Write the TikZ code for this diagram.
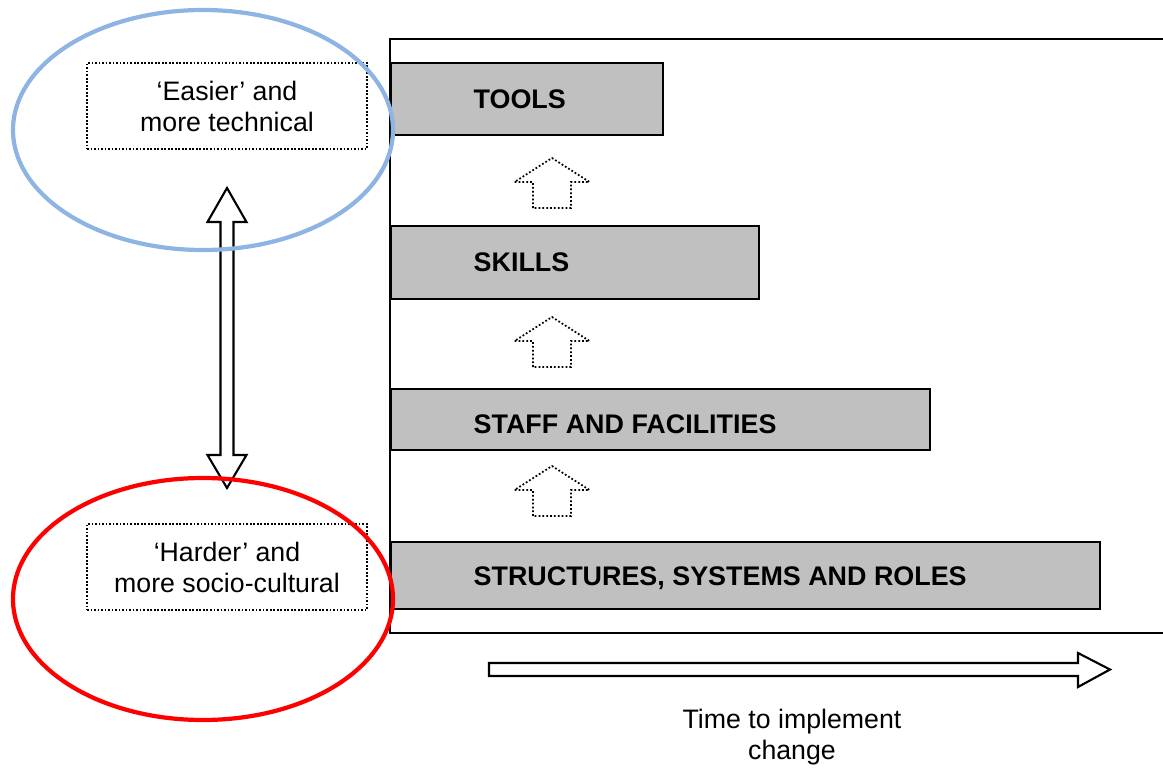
\documentclass[tikz,border=0pt]{standalone}
\usepackage{fontspec}
\setmainfont{Liberation Sans}
\usetikzlibrary{positioning}

\definecolor{bargray}{RGB}{192,192,192}
\definecolor{easyblue}{RGB}{141,180,226}
\definecolor{hardred}{RGB}{255,0,0}

\tikzset{
  bar/.style={draw, line width=0.6pt, fill=bargray, anchor=north west, inner sep=0pt},
  barlabel/.style={font=\bfseries\fontsize{7.65}{9}\selectfont, inner sep=0pt},
  notebox/.style={draw, dash pattern=on 0.5pt off 0.5pt, line width=0.7pt, minimum width=2.8cm,
    minimum height=0.86cm, align=center, font=\fontsize{7.6}{8.8}\selectfont},
  hint/.style={dash pattern=on 0.5pt off 0.6pt, line width=0.5pt}
}

\begin{document}
\begin{tikzpicture}

\useasboundingbox (0,0) rectangle (11.63,7.67);

%% Outer frame %%
\draw[line width=0.6pt] (11.63,7.28) -- (3.90,7.28) -- (3.90,1.34) -- (11.63,1.34);

%% Bars %%
\node[bar, minimum width=2.72cm, minimum height=0.72cm] (tools) at (3.90,7.05) {};
\node[bar, minimum width=3.68cm, minimum height=0.73cm] (skills) at (3.90,5.42) {};
\node[bar, minimum width=5.39cm, minimum height=0.61cm] (staff) at (3.90,3.79) {};
\node[bar, minimum width=7.09cm, minimum height=0.67cm] (structures) at (3.90,2.26) {};

\node[barlabel, right=0.83cm of tools.west] (toolstext) {TOOLS};
\node[barlabel, right=0.83cm of skills.west] (skillstext) {SKILLS};
\node[barlabel, right=0.83cm of staff.west, yshift=-0.05cm] (stafftext) {STAFF AND FACILITIES};
\node[barlabel, right=0.83cm of structures.west, yshift=-0.03cm] (structurestext) {STRUCTURES, SYSTEMS AND ROLES};

% dotted arrows between bars %
\foreach \y in {5.59, 4.00, 2.51}
  \draw[hint] (5.33,\y) -- (5.33,\y+0.26) -- (5.145,\y+0.26) -- (5.52,\y+0.50)
    -- (5.895,\y+0.26) -- (5.71,\y+0.26) -- (5.71,\y) -- cycle;

%% Time arrow %%
\draw[line width=0.6pt] (4.89,0.91) -- (10.78,0.91) -- (10.78,0.80) -- (11.10,0.975)
  -- (10.78,1.14) -- (10.78,1.04) -- (4.89,1.04) -- cycle;
\node[font=\fontsize{7.6}{8.8}\selectfont, align=center] (timelabel) at (7.92,0.30)
  {Time to implement\\change};

%% Left side %%
% double arrow %
\draw[line width=0.6pt] (2.27,5.79) -- (2.465,5.45) -- (2.335,5.45) -- (2.335,3.12)
  -- (2.465,3.12) -- (2.27,2.79) -- (2.075,3.12) -- (2.205,3.12) -- (2.205,5.45)
  -- (2.075,5.45) -- cycle;

% boxes %
\node[notebox] (easier) at (2.27,6.61) {‘Easier’ and\\more technical};
\node[notebox] (harder) at (2.27,2.00) {‘Harder’ and\\more socio-cultural};

% ellipses %
\draw[easyblue, line width=1.2pt] (2.03,6.37) ellipse (1.90 and 1.20);
\draw[hardred, line width=1.2pt] (2.03,1.68) ellipse (1.90 and 1.21);

\end{tikzpicture}
\end{document}
